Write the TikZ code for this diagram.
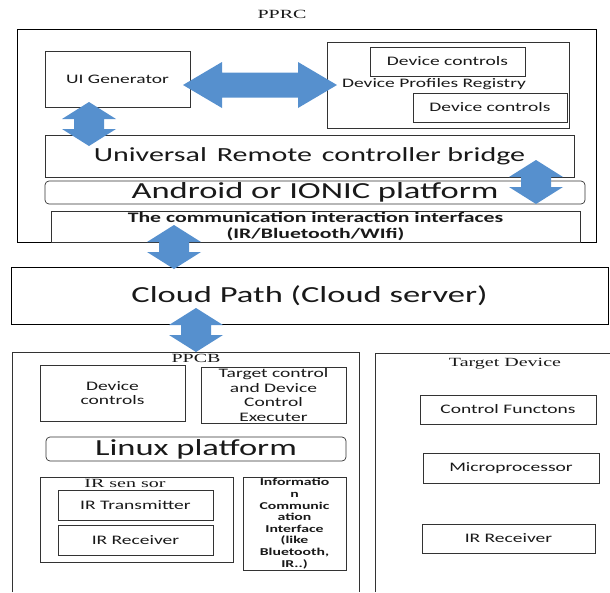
\documentclass[tikz,border=0pt]{standalone}
\usepackage{fontspec}
\setmainfont{Carlito}[FakeStretch=1.5]
\newfontfamily\tnr{Liberation Serif}[FakeStretch=1.6]
\definecolor{arrowblue}{RGB}{86,144,206}
\tikzset{
  box/.style={draw=black!80, line width=.7pt, inner sep=0pt, align=center, text=black!90, font=\fontsize{13}{14.4}\selectfont},
  platform/.style={box, rounded corners=4pt, font=\fontsize{23}{26}\selectfont},
  frametitle/.style={inner sep=0pt, text=black!90, font=\tnr\fontsize{12.5}{14}\selectfont}
}
\tikzset{
  updown/.pic={\fill[arrowblue] (0,-22) -- (27,-5) -- (15,-5) -- (15,5) -- (27,5) -- (0,22) -- (-27,5) -- (-15,5) -- (-15,-5) -- (-27,-5) -- cycle;}
}
\begin{document}
\begin{tikzpicture}[x=1pt, y=-1pt]
\useasboundingbox (0,0) rectangle (610,592);
% remote controller side
\node[frametitle] (pprctitle) at (282,14) {PPRC};
\node[box, draw=black, minimum width=579, minimum height=213] (pprc) at (306.5,135.5) {};
\node[box, minimum width=145, minimum height=56] (uigen) at (117.5,79) {UI Generator};
\node[box, minimum width=242, minimum height=86] (registry) at (448,85) {};
\node[box, minimum width=155, minimum height=29] (devctrla) at (447.5,61.5) {Device controls};
\node[box, draw=none] (regname) at (434,84) {Device Profiles Registry};
\node[box, minimum width=154, minimum height=29] (devctrlb) at (490,107.5) {Device controls};
\node[box, minimum width=529, minimum height=42, font=\fontsize{20}{22}\selectfont] (bridge) at (309.5,156) {Universal\enspace Remote\enspace controller bridge};
\node[platform, minimum width=540, minimum height=23] (android) at (315,192.5) {Android or IONIC platform};
\node[box, minimum width=529, minimum height=31, font=\bfseries\fontsize{14.5}{16}\selectfont] (comm) at (315.5,226.5) {The communication interaction interfaces\\(IR/Bluetooth/WIfi)};
% cloud
\node[box, draw=black, minimum width=597, minimum height=57, font=\fontsize{23}{25}\selectfont] (cloud) at (309.5,295.5) {Cloud Path (Cloud server)};
% control board
\draw[black!80, line width=.7pt] (12,592) |- (359,352) -- (359,592);
\node[frametitle] (ppcbtitle) at (196,358) {PPCB};
\node[box, minimum width=145, minimum height=56] (devctrlc) at (112.5,393) {Device\\controls};
\node[box, minimum width=145, minimum height=56] (executer) at (273.5,395) {Target control\\and Device\\Control\\Executer};
\node[platform, minimum width=300, minimum height=24] (linux) at (196,449) {Linux platform};
\node[box, minimum width=193, minimum height=85] (irsensor) at (136.5,519.5) {};
\node[frametitle] (irsensorname) at (125,483) {IR sen sor};
\node[box, minimum width=155, minimum height=30] (irtx) at (135.5,505) {IR Transmitter};
\node[box, minimum width=155, minimum height=30] (irrx) at (135.5,540) {IR Receiver};
\node[box, minimum width=103, minimum height=93, font=\bfseries\fontsize{10.5}{11.6}\selectfont] (info) at (294.5,523.5) {Informatio\\n\\Communic\\ation\\Interface\\(like\\Bluetooth,\\IR..)};
% target device
\draw[black!80, line width=.7pt] (375,592) |- (610,353);
\node[frametitle] (targettitle) at (505,364) {Target Device};
\node[box, minimum width=176, minimum height=29] (ctrlfn) at (508,409.5) {Control Functons};
\node[box, minimum width=176, minimum height=30] (mproc) at (511,468) {Microprocessor};
\node[box, minimum width=173, minimum height=29] (irrxb) at (508.5,538.5) {IR Receiver};
% block arrows
\fill[arrowblue] (183,85) -- (222,62) -- (222,72.5) -- (298,72.5) -- (298,62) -- (337,85) -- (298,108) -- (298,97.5) -- (222,97.5) -- (222,108) -- cycle;
\pic at (89,124) {updown};
\pic at (536,182) {updown};
\pic at (174,247) {updown};
\pic at (196,330) {updown};
\end{tikzpicture}
\end{document}
